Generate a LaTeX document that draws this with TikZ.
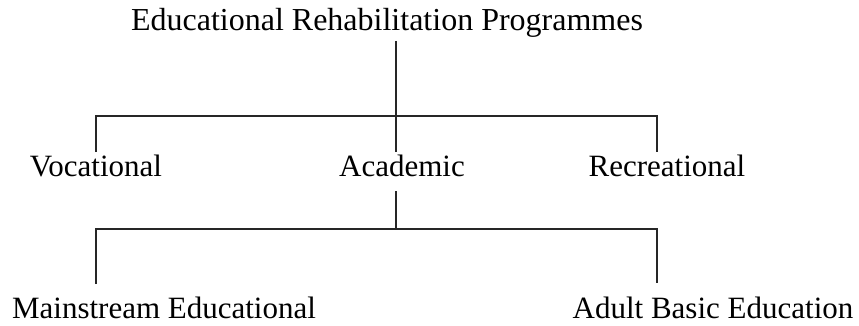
\documentclass[tikz,border=0pt]{standalone}
\usepackage{fontspec}
\setmainfont{Liberation Serif}
\begin{document}
\begin{tikzpicture}[x=1pt,y=-1pt,
  lbl/.style={anchor=base,inner sep=0pt,font=\fontsize{31}{31}\selectfont},
  ttl/.style={anchor=base,inner sep=0pt,font=\fontsize{32}{32}\selectfont},
  conn/.style={line width=1.4pt,black!85}]
\useasboundingbox (0,0) rectangle (859,326);
% nodes
\node[ttl] (title) at (387,31) {Educational Rehabilitation Programmes};
\node[lbl] (voc) at (96,176) {Vocational};
\node[lbl] (acad) at (402,176) {Academic};
\node[lbl] (rec) at (667,176) {Recreational};
\node[lbl] (main) at (164,318) {Mainstream Educational};
\node[lbl] (adult) at (713,318) {Adult Basic Education};
% junction coordinates
\coordinate (tTop) at (396,41);
\coordinate (aTop) at (396,152);
\coordinate (b1l) at (96,116);
\coordinate (b1r) at (657,116);
\coordinate (vTop) at (96,152);
\coordinate (rTop) at (657,152);
\coordinate (aBot) at (396,191);
\coordinate (b2m) at (396,229);
\coordinate (b2l) at (96,229);
\coordinate (b2r) at (657,229);
\coordinate (mTop) at (96,284);
\coordinate (adTop) at (657,283);
% connectors
\draw[conn] (tTop) -- (aTop);
\draw[conn] (vTop) -- (b1l) -- (b1r) -- (rTop);
\draw[conn] (aBot) -- (b2m);
\draw[conn] (mTop) -- (b2l) -- (b2r) -- (adTop);
\end{tikzpicture}
\end{document}
